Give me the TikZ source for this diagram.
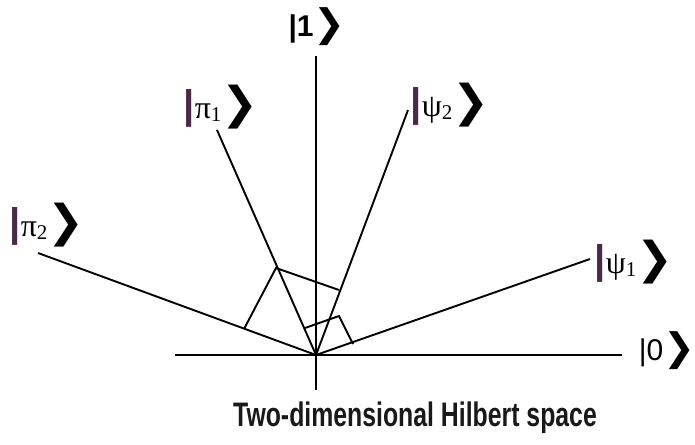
\documentclass[tikz,border=0pt]{standalone}
\usepackage{fontspec}
\setmainfont{Liberation Sans}
\newfontfamily\grk{Liberation Serif}
\newfontfamily\chevf{DejaVu Sans}
\definecolor{barcol}{HTML}{4A2A48}
\newcommand{\kbar}{{\color{barcol}\bfseries\fontsize{40}{40}\selectfont|}}
\newcommand{\kchev}{{\chevf\bfseries\fontsize{44}{44}\selectfont ❯}}
\newcommand{\kgr}[1]{{\grk\fontsize{32}{32}\selectfont #1}}
\newcommand{\ksub}[1]{{\grk\fontsize{21}{21}\selectfont\raisebox{-3pt}{#1}}}
\begin{document}
\begin{tikzpicture}[x=1pt,y=-1pt,
  vec/.style={line width=1.9pt,black},
  proj/.style={line width=1.9pt,black,line join=miter},
  ket/.style={inner sep=0pt,anchor=center},
  title/.style={inner sep=0pt,font=\bfseries\fontsize{34}{34}\selectfont,text=black!90}]
\useasboundingbox (0,0) rectangle (695,444);
% axes
\coordinate (O) at (316,355);
\coordinate (xl) at (175,355);
\coordinate (xr) at (622,355);
\coordinate (yt) at (316,56);
\coordinate (yb) at (316,390);
% vectors
\coordinate (p1) at (217,130);
\coordinate (p2) at (38,253);
\coordinate (s1) at (590,259);
\coordinate (s2) at (408,110);
% projection points
\coordinate (a) at (276,268);
\coordinate (a2) at (244,329);
\coordinate (a3) at (339,290);
\coordinate (b) at (305,328);
\coordinate (bc) at (339,316);
\coordinate (b3) at (353,344);
\draw[vec] (xl) -- (xr);
\draw[vec] (yt) -- (yb);
\draw[vec] (p1) -- (O);
\draw[vec] (p2) -- (O);
\draw[vec] (s1) -- (O);
\draw[vec] (s2) -- (O);
\draw[proj] (a2) -- (a) -- (a3);
\draw[proj] (b) -- (bc) -- (b3);
% labels
\node[ket] (k1) at (317,27) {\bfseries\fontsize{30}{30}\selectfont|1{\chevf\bfseries\fontsize{38}{38}\selectfont ❯}};
\node[ket] (k0) at (667,351) {\fontsize{30}{30}\selectfont|0{\chevf\bfseries\fontsize{38}{38}\selectfont ❯}};
\node[ket] (kp1) at (221,107) {\kbar\kgr{π}\ksub{1}\kchev};
\node[ket] (ks2) at (450,105) {\kbar\kgr{ψ}\ksub{2}\kchev};
\node[ket] (kp2) at (47,225) {\kbar\kgr{π}\ksub{2}\kchev};
\node[ket] (ks1) at (634,262) {\kbar\kgr{ψ}\ksub{1}\kchev};
\node[title] (t) at (415,418) {\scalebox{0.73}[1]{Two-dimensional Hilbert space}};
\end{tikzpicture}
\end{document}
